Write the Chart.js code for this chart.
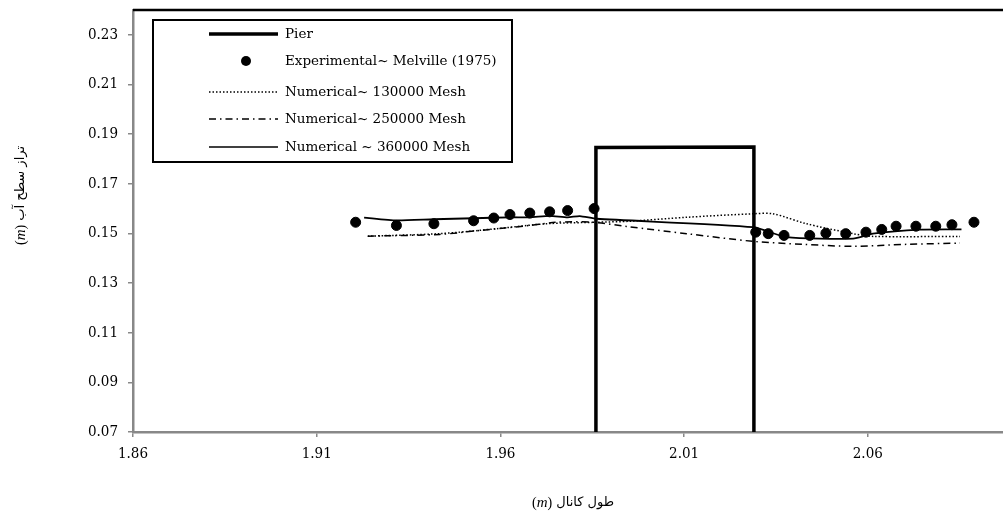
<!DOCTYPE html>
<html><head><meta charset="utf-8">
<script src="https://cdn.jsdelivr.net/npm/chart.js@4/dist/chart.umd.min.js"></script>
<style>html,body{margin:0;padding:0;background:#fff;overflow:hidden;width:1003px;height:521px}</style>
</head><body>
<canvas id="c" width="1009" height="521"></canvas>
<script>
// ---- data ----
const xTicks = [1.86, 1.91, 1.96, 2.01, 2.06];
const yTicks = [0.07, 0.09, 0.11, 0.13, 0.15, 0.17, 0.19, 0.21, 0.23];
const xMin = 1.86, xMax = 2.0968, yMin = 0.07, yMax = 0.24;

const pierX = [1.986, 1.986, 2.029, 2.029];
const pierY = [0.06, 0.1846, 0.1848, 0.06];

const expX = [1.9206, 1.9317, 1.9419, 1.9527, 1.9582, 1.9626, 1.9680, 1.9734, 1.9783, 1.9855,
              2.0295, 2.0329, 2.0372, 2.0442, 2.0486, 2.0540, 2.0595, 2.0638, 2.0677, 2.0731, 2.0785, 2.0829, 2.0889];
const expY = [0.1545, 0.1532, 0.1539, 0.1551, 0.1562, 0.1576, 0.1582, 0.1587, 0.1592, 0.1600,
              0.1505, 0.1499, 0.1492, 0.1492, 0.1501, 0.1499, 0.1505, 0.1516, 0.1529, 0.1529, 0.1529, 0.1535, 0.1545];

const m130X = [1.9239, 1.9435, 1.9589, 1.9725, 1.9862, 1.9952, 2.0107, 2.0288, 2.0342, 2.0433, 2.0560, 2.0615, 2.0851];
const m130Y = [0.1489, 0.1499, 0.1519, 0.1539, 0.1545, 0.1549, 0.1565, 0.1579, 0.1579, 0.1539, 0.1499, 0.1488, 0.1488];

const m250X = [1.9239, 1.9435, 1.9544, 1.9680, 1.9752, 1.9852, 1.9943, 2.0107, 2.0288, 2.0424, 2.0560, 2.0706, 2.0851];
const m250Y = [0.1489, 0.1496, 0.1512, 0.1532, 0.1545, 0.1545, 0.1528, 0.1499, 0.1468, 0.1456, 0.1448, 0.1456, 0.1461];

const m360X = [1.9229, 1.9317, 1.9419, 1.9527, 1.9626, 1.9680, 1.9734, 1.9783, 1.9816, 1.9862, 2.0288, 2.0379, 2.0560, 2.0614, 2.0742, 2.0855];
const m360Y = [0.1564, 0.1552, 0.1557, 0.1561, 0.1565, 0.1565, 0.1571, 0.1565, 0.1570, 0.1559, 0.1525, 0.1485, 0.1479, 0.1499, 0.1515, 0.1516];

const labels = ['Pier', 'Experimental~ Melville (1975)', 'Numerical~ 130000 Mesh', 'Numerical~ 250000 Mesh', 'Numerical ~ 360000 Mesh'];
const xTitle = 'طول کانال';
const yTitle = 'تراز سطح آب';

const pts = (xs, ys) => xs.map((x, i) => ({x, y: ys[i]}));

function drawTitle(ctx, x, y, ar) {
  ctx.textBaseline = 'middle'; ctx.textAlign = 'left'; ctx.direction = 'ltr'; ctx.fillStyle = '#000';
  const parts = [['(', '14px "Liberation Serif"'], ['m', 'italic 15px "Liberation Serif"'], [')', '14px "Liberation Serif"'],
                 [' ', '13px "DejaVu Sans"'], [ar, '13px "DejaVu Sans"']];
  let cx = x;
  for (const [t, f] of parts) { ctx.font = f; ctx.fillText(t, cx, y); cx += ctx.measureText(t).width; }
}

const deco = {
  id: 'deco',
  afterDraw(chart) {
    const ctx = chart.ctx, a = chart.chartArea;
    ctx.save();
    ctx.strokeStyle = '#000'; ctx.lineWidth = 2.5;
    ctx.beginPath(); ctx.moveTo(a.left, a.top); ctx.lineTo(a.right, a.top); ctx.stroke();
    ctx.fillStyle = '#fff'; ctx.fillRect(153, 20, 359, 142);
    ctx.lineWidth = 2; ctx.strokeStyle = '#000'; ctx.strokeRect(153, 20, 359, 142);
    const rows = [34, 61, 92, 119, 147];
    const x0 = 209, x1 = 278, tx = 285;
    ctx.setLineDash([]); ctx.lineWidth = 3.5;
    ctx.beginPath(); ctx.moveTo(x0, rows[0]); ctx.lineTo(x1, rows[0]); ctx.stroke();
    ctx.fillStyle = '#000'; ctx.beginPath(); ctx.arc(246, rows[1], 5, 0, Math.PI * 2); ctx.fill();
    ctx.lineWidth = 1.5; ctx.setLineDash([1.5, 2]);
    ctx.beginPath(); ctx.moveTo(x0, rows[2]); ctx.lineTo(x1, rows[2]); ctx.stroke();
    ctx.setLineDash([7, 4, 1.5, 4]);
    ctx.beginPath(); ctx.moveTo(x0, rows[3]); ctx.lineTo(x1, rows[3]); ctx.stroke();
    ctx.setLineDash([]);
    ctx.beginPath(); ctx.moveTo(x0, rows[4]); ctx.lineTo(x1, rows[4]); ctx.stroke();
    ctx.font = '13.5px "DejaVu Serif"'; ctx.textBaseline = 'middle'; ctx.textAlign = 'left';
    labels.forEach((l, i) => ctx.fillText(l, tx, rows[i]));
    drawTitle(ctx, 532, 503, xTitle);
    ctx.translate(21, 245); ctx.rotate(-Math.PI / 2);
    drawTitle(ctx, 0, 0, yTitle);
    ctx.restore();
  }
};

const gridOpts = {drawOnChartArea: false, color: '#888', tickLength: 5, lineWidth: 1.5};
const tickFont = {family: '"DejaVu Serif Condensed", "DejaVu Serif"', size: 15};

new Chart(document.getElementById('c'), {
  type: 'scatter',
  data: {
    datasets: [
      {label: labels[0], data: pts(pierX, pierY), showLine: true, borderColor: '#000', borderWidth: 3.5, pointRadius: 0, order: 0},
      {label: labels[1], data: pts(expX, expY), showLine: false, backgroundColor: '#000', borderColor: '#000', pointRadius: 5, order: 1},
      {label: labels[2], data: pts(m130X, m130Y), showLine: true, borderColor: '#000', borderWidth: 1.5, borderDash: [1.5, 2], pointRadius: 0, tension: 0.3, order: 2},
      {label: labels[3], data: pts(m250X, m250Y), showLine: true, borderColor: '#000', borderWidth: 1.5, borderDash: [7, 4, 1.5, 4], pointRadius: 0, tension: 0.3, order: 3},
      {label: labels[4], data: pts(m360X, m360Y), showLine: true, borderColor: '#000', borderWidth: 1.8, pointRadius: 0, tension: 0.2, order: 4}
    ]
  },
  options: {
    responsive: false, animation: false,
    layout: {padding: {top: 10, right: 0, left: 0, bottom: 0}},
    plugins: {legend: {display: false}, tooltip: {enabled: false}},
    scales: {
      x: {
        type: 'linear', min: xMin, max: xMax,
        afterBuildTicks: s => { s.ticks = xTicks.map(v => ({value: v})); },
        afterFit: s => { s.height = 89; s.paddingLeft = 0; s.paddingRight = 0; },
        ticks: {color: '#000', font: tickFont, padding: 8, maxRotation: 0, callback: v => v.toFixed(2)},
        grid: gridOpts, border: {color: '#888', width: 2.5}
      },
      y: {
        type: 'linear', min: yMin, max: yMax,
        afterBuildTicks: s => { s.ticks = yTicks.map(v => ({value: v})); },
        afterFit: s => { s.width = 133; s.paddingTop = 0; s.paddingBottom = 0; },
        ticks: {color: '#000', font: tickFont, padding: 10, callback: v => v.toFixed(2)},
        grid: gridOpts, border: {color: '#888', width: 2.5}
      }
    }
  },
  plugins: [deco]
});
</script>
</body></html>
